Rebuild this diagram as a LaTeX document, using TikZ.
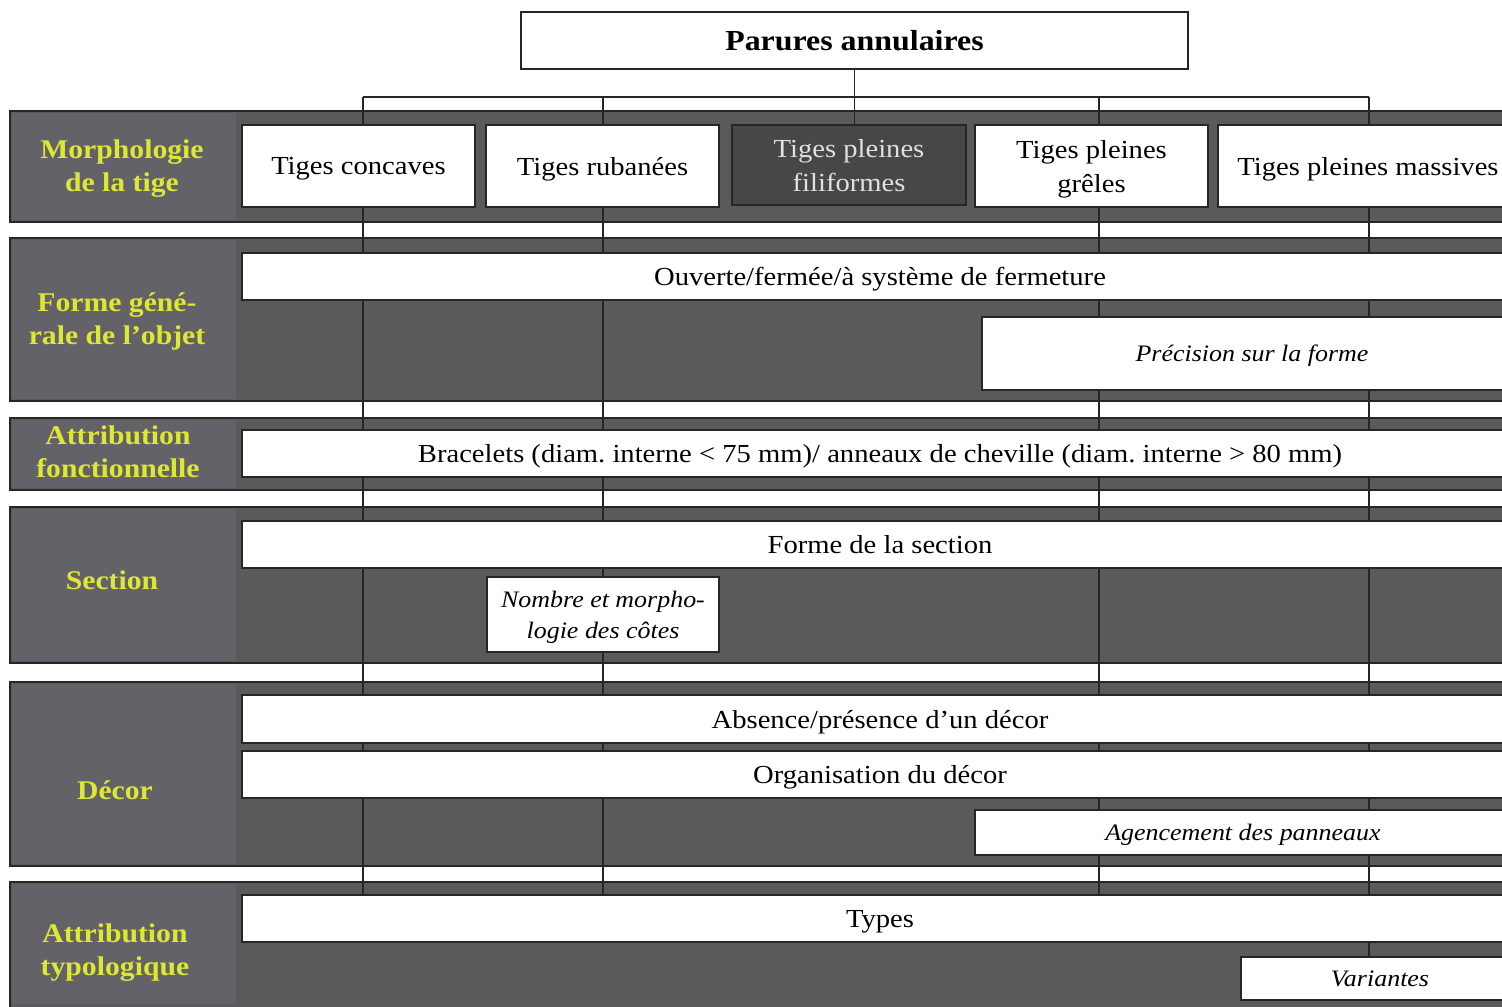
\documentclass[tikz,border=0pt]{standalone}
\usepackage{fontspec}
\setmainfont[FakeStretch=1.1]{Liberation Serif}
\usetikzlibrary{backgrounds}
\definecolor{bandc}{HTML}{5A5A5A}
\definecolor{labc}{HTML}{636268}
\definecolor{ylw}{RGB}{222,232,50}
\definecolor{filc}{HTML}{474747}
\newcommand{\bx}[7]{\node[#6, minimum width={(#4-#2)*0.5pt}, minimum height={(#5-#3)*0.5pt}] (#1) at ({(#2+#4)/2},{(#3+#5)/2}) {#7};}
\tikzset{
  wbox/.style={draw=black!85, line width=1pt, fill=white, inner sep=0pt, align=center, text depth=0pt,
    font=\fontsize{13}{17}\selectfont\frenchspacing},
  dbox/.style={wbox, fill=filc, text=black!12},
  ibox/.style={wbox, font=\itshape\fontsize{11.8}{15.5}\selectfont},
  tbox/.style={wbox, font=\bfseries\fontsize{14.5}{17}\selectfont},
  bandbox/.style={draw=black!85, line width=1pt, fill=bandc, inner sep=0pt},
  lbl/.style={text=ylw, align=center, font=\bfseries\fontsize{13.5}{16.5}\selectfont},
  conn/.style={draw=black!85, line width=0.9pt}
}
\begin{document}
\begin{tikzpicture}[x=0.5pt,y=-0.5pt]
\useasboundingbox (0,0) rectangle (1502,1006);
% boxes
\bx{top}{521}{12}{1188}{69}{tbox}{Parures annulaires}
\bx{conc}{242}{125}{475}{207}{wbox}{Tiges concaves}
\bx{rub}{486}{125}{719}{207}{wbox}{Tiges rubanées}
\bx{fil}{732}{125}{966}{205}{dbox}{Tiges pleines\\filiformes}
\bx{gre}{975}{125}{1208}{207}{wbox}{Tiges pleines\\grêles}
\bx{mas}{1218}{125}{1518}{207}{wbox}{Tiges pleines massives}
\bx{ouv}{242}{253}{1518}{300}{wbox}{Ouverte/fermée/à système de fermeture}
\bx{pre}{982}{317}{1522}{390}{ibox}{Précision sur la forme}
\bx{bra}{242}{430}{1518}{477}{wbox}{Bracelets (diam. interne < 75 mm)/ anneaux de cheville (diam. interne > 80 mm)}
\bx{fsec}{242}{521}{1518}{568}{wbox}{Forme de la section}
\bx{nom}{487}{577}{719}{652}{ibox}{Nombre et morpho-\\logie des côtes}
\bx{abs}{242}{695}{1518}{743}{wbox}{Absence/présence d’un décor}
\bx{org}{242}{751}{1518}{798}{wbox}{Organisation du décor}
\bx{age}{975}{810}{1511}{855}{ibox}{Agencement des panneaux}
\bx{types}{242}{895}{1518}{942}{wbox}{Types}
\bx{var}{1241}{957}{1519}{1000}{ibox}{Variantes}
% row labels
\node[lbl] (l1) at (122,169) {Morphologie\\de la tige};
\node[lbl] (l2) at (117,321) {Forme géné-\\rale de l’objet};
\node[lbl] (l3) at (118,452) {Attribution\\fonctionnelle};
\node[lbl] (l4) at (112,580) {Section};
\node[lbl] (l5) at (115,790) {Décor};
\node[lbl] (l6) at (115,953) {Attribution\\typologique};
% branch coordinates
\coordinate (b1) at (363,97);
\coordinate (b2) at (603,97);
\coordinate (b3) at (1099,97);
\coordinate (b4) at (1369,97);
\begin{scope}[on background layer]
  \fill[white] (0,0) rectangle (1502,1006);
  \bx{r1}{10}{111}{1530}{222}{bandbox}{}
  \bx{r2}{10}{238}{1530}{401}{bandbox}{}
  \bx{r3}{10}{418}{1530}{490}{bandbox}{}
  \bx{r4}{10}{507}{1530}{663}{bandbox}{}
  \bx{r5}{10}{682}{1530}{866}{bandbox}{}
  \bx{r6}{10}{882}{1530}{1015}{bandbox}{}
  \fill[labc] (12,113) rectangle (236,220);
  \fill[labc] (12,240) rectangle (236,399);
  \fill[labc] (12,420) rectangle (236,488);
  \fill[labc] (12,509) rectangle (236,661);
  \fill[labc] (12,684) rectangle (236,864);
  \fill[labc] (12,884) rectangle (236,1004);
  % tree connectors
  \draw[conn] (top.south) -- (top.south |- fil.north);
  \draw[conn] (b1) -- (b4);
  \draw[conn] (b1) -- (b1 |- conc.north);
  \draw[conn] (b2) -- (b2 |- rub.north);
  \draw[conn] (b3) -- (b3 |- gre.north);
  \draw[conn] (b4) -- (b4 |- mas.north);
  % through lines
  \draw[conn] (b1 |- conc.south) -- (b1 |- types.north);
  \draw[conn] (b2 |- rub.south) -- (b2 |- types.north);
  \draw[conn] (b3 |- gre.south) -- (b3 |- types.north);
  \draw[conn] (b4 |- mas.south) -- (b4 |- var.north);
\end{scope}
\end{tikzpicture}
\end{document}
